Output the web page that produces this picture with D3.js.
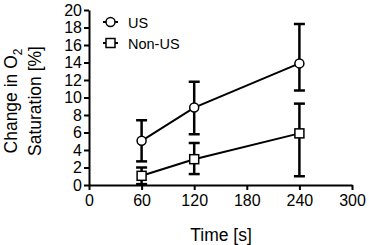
<!DOCTYPE html>
<html>
<head>
<meta charset="utf-8">
<script src="https://cdn.jsdelivr.net/npm/d3@7"></script>
<style>
  body { margin: 0; background: white; }
  text { font-family: "Liberation Sans", Arial, sans-serif; }
</style>
</head>
<body>
<div id="chart"></div>
<script>
let w = 369;
let h = 245;

// data
let times = [60, 120, 240];
let usMean = [5.05, 8.85, 13.9];
let usLow = [2.7, 5.8, 10.8];
let usHigh = [7.4, 11.8, 18.4];
let nonMean = [1.05, 2.95, 5.9];
let nonLow = [0.1, 1.25, 1.0];
let nonHigh = [2.0, 4.8, 9.3];
let xTicks = [0, 60, 120, 180, 240, 300];
let yTicks = [0, 2, 4, 6, 8, 10, 12, 14, 16, 18, 20];

let svg = d3.select("#chart").append("svg")
  .attr("width", w)
  .attr("height", h);

let xScale = d3.scaleLinear().domain([0, 300]).range([89, 352]);
let yScale = d3.scaleLinear().domain([0, 20]).range([185, 10]);

// axes
let xAxis = svg.append("g")
  .attr("transform", "translate(0," + yScale(0) + ")")
  .call(d3.axisBottom(xScale).tickValues(xTicks).tickSize(5).tickSizeOuter(0));
let yAxis = svg.append("g")
  .attr("transform", "translate(" + xScale(0) + ",0)")
  .call(d3.axisLeft(yScale).tickValues(yTicks).tickSize(5).tickSizeOuter(0));

svg.selectAll(".domain").attr("stroke", "black").attr("stroke-width", 2);
svg.selectAll(".tick line").attr("stroke", "black").attr("stroke-width", 2);
svg.selectAll(".tick text")
  .attr("fill", "black")
  .style("font-size", "16px")
  .style("font-family", "Liberation Sans, Arial, sans-serif");
xAxis.selectAll(".tick text").attr("y", 10);
yAxis.selectAll(".tick text").attr("x", -7);

// axis titles
svg.append("text")
  .attr("x", 221)
  .attr("y", 241)
  .attr("text-anchor", "middle")
  .style("font-size", "17.5px")
  .text("Time [s]");

let ylab = svg.append("g").attr("transform", "translate(0, 101) rotate(-90)");
let l1 = ylab.append("text")
  .attr("x", 0).attr("y", 17)
  .attr("text-anchor", "middle")
  .style("font-size", "17.5px");
l1.append("tspan").text("Change in O");
l1.append("tspan").text("2").attr("dy", 5).style("font-size", "12px");
ylab.append("text")
  .attr("x", 0).attr("y", 41)
  .attr("text-anchor", "middle")
  .style("font-size", "17.5px")
  .text("Saturation [%]");

function drawSeries(mean, low, high, shape) {
  let pts = times.map((t, i) => ({t: t, m: mean[i], lo: low[i], hi: high[i]}));
  let g = svg.append("g");
  let line = d3.line().x(d => xScale(d.t)).y(d => yScale(d.m));
  g.append("path").datum(pts)
    .attr("d", line)
    .attr("fill", "none")
    .attr("stroke", "black")
    .attr("stroke-width", 2);
  let eb = g.selectAll(".eb").data(pts).enter().append("g");
  eb.append("line")
    .attr("x1", d => xScale(d.t)).attr("x2", d => xScale(d.t))
    .attr("y1", d => yScale(d.lo)).attr("y2", d => yScale(d.hi))
    .attr("stroke", "black").attr("stroke-width", 2.5);
  eb.append("line")
    .attr("x1", d => xScale(d.t) - 5.5).attr("x2", d => xScale(d.t) + 5.5)
    .attr("y1", d => yScale(d.hi)).attr("y2", d => yScale(d.hi))
    .attr("stroke", "black").attr("stroke-width", 2.5);
  eb.append("line")
    .attr("x1", d => xScale(d.t) - 5.5).attr("x2", d => xScale(d.t) + 5.5)
    .attr("y1", d => yScale(d.lo)).attr("y2", d => yScale(d.lo))
    .attr("stroke", "black").attr("stroke-width", 2.5);
  if (shape == "circle") {
    eb.append("circle")
      .attr("cx", d => xScale(d.t)).attr("cy", d => yScale(d.m))
      .attr("r", 4.5)
      .attr("fill", "white").attr("stroke", "black").attr("stroke-width", 1.5);
  } else {
    eb.append("rect")
      .attr("x", d => xScale(d.t) - 4.5).attr("y", d => yScale(d.m) - 4.5)
      .attr("width", 9).attr("height", 9)
      .attr("fill", "white").attr("stroke", "black").attr("stroke-width", 1.5);
  }
}

drawSeries(usMean, usLow, usHigh, "circle");
drawSeries(nonMean, nonLow, nonHigh, "square");

// legend
let legend = [{name: "US", shape: "circle", y: 22}, {name: "Non-US", shape: "square", y: 43}];
legend.forEach(d => {
  svg.append("line")
    .attr("x1", 103).attr("x2", 118)
    .attr("y1", d.y).attr("y2", d.y)
    .attr("stroke", "black").attr("stroke-width", 2);
  if (d.shape == "circle") {
    svg.append("circle").attr("cx", 110.5).attr("cy", d.y).attr("r", 4.5)
      .attr("fill", "white").attr("stroke", "black").attr("stroke-width", 1.5);
  } else {
    svg.append("rect").attr("x", 106).attr("y", d.y - 4.5).attr("width", 9).attr("height", 9)
      .attr("fill", "white").attr("stroke", "black").attr("stroke-width", 1.5);
  }
  svg.append("text")
    .attr("x", 128).attr("y", d.y + 5.5)
    .style("font-size", "14.5px")
    .text(d.name);
});
</script>
</body>
</html>
